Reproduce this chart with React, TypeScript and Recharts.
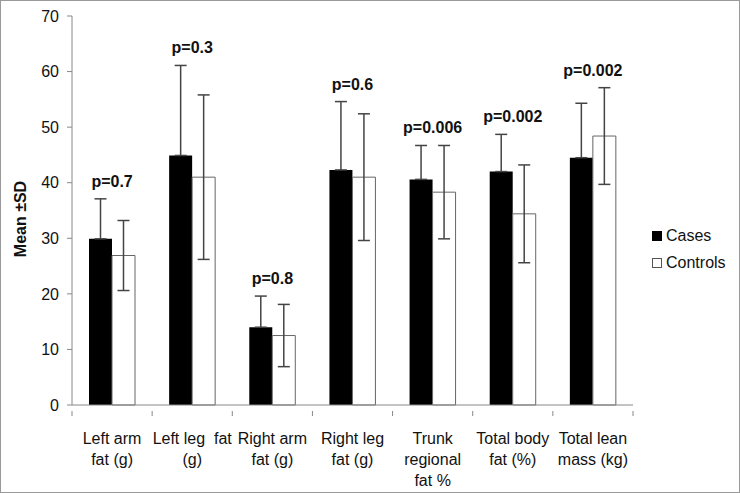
import {
  ComposedChart, Bar, Line, XAxis, YAxis, ErrorBar, LabelList,
} from 'recharts';

const categories = [
  ['Left arm', 'fat (g)'],
  ['Left leg\u00a0\u00a0fat', '(g)'],
  ['Right arm', 'fat (g)'],
  ['Right leg', 'fat (g)'],
  ['Trunk', 'regional', 'fat %'],
  ['Total\u00a0body', 'fat (%)'],
  ['Total\u00a0lean', 'mass (kg)'],
];
const casesMean = [29.9, 44.9, 14.0, 42.3, 40.6, 42.0, 44.5];
const casesSd = [7.2, 16.2, 5.6, 12.3, 6.1, 6.7, 9.8];
const controlsMean = [26.9, 41.0, 12.5, 41.0, 38.3, 34.4, 48.4];
const controlsSd = [6.3, 14.8, 5.6, 11.4, 8.4, 8.8, 8.7];
const pValues = ['p=0.7', 'p=0.3', 'p=0.8', 'p=0.6', 'p=0.006', 'p=0.002', 'p=0.002'];
const yTicks = [0, 10, 20, 30, 40, 50, 60, 70];

const FONT = "Arial, 'Liberation Sans', sans-serif";
const W = 738;
const H = 491;
const X_AXIS_H = 30;
const Y_AXIS_W = 71;
const margin = { top: 15, right: 106, bottom: 87 - X_AXIS_H, left: 0 };
const halfBand = (W - margin.left - margin.right - Y_AXIS_W) / categories.length / 2;

const chartData = categories.map((lines, i) => ({
  name: lines.join(' '),
  lines,
  cases: casesMean[i],
  // lower whisker is hidden inside the black bar in the original
  casesErr: [0, casesSd[i]],
  controls: controlsMean[i],
  controlsSd: controlsSd[i],
  p: pValues[i],
  pTop: Math.max(casesMean[i] + casesSd[i], controlsMean[i] + controlsSd[i]),
}));

function CategoryTick(props: any) {
  const { x, y, payload, index } = props;
  const lines: string[] = chartData[index]?.lines ?? [String(payload.value)];
  const axisY = y - 2;
  return (
    <g>
      <line x1={x - halfBand} y1={axisY} x2={x - halfBand} y2={axisY + 5} stroke="#888" />
      {index === categories.length - 1 && (
        <line x1={x + halfBand} y1={axisY} x2={x + halfBand} y2={axisY + 5} stroke="#888" />
      )}
      <text x={x} y={axisY} textAnchor="middle" fontSize={16} fontFamily={FONT} fill="#111">
        {lines.map((l, k) => (
          <tspan key={k} x={x} dy={k === 0 ? 33 : 21}>{l}</tspan>
        ))}
      </text>
    </g>
  );
}

function PLabel(props: any) {
  const { x, y, value } = props;
  return (
    <text x={x} y={y - 12} textAnchor="middle" fontSize={16} fontWeight="bold" fontFamily={FONT} fill="#111">
      {value}
    </text>
  );
}

function LegendBox() {
  return (
    <div style={{ position: 'absolute', left: 651, top: 221, fontFamily: FONT, fontSize: 16, color: '#111', lineHeight: '27px' }}>
      <div style={{ display: 'flex', alignItems: 'center' }}>
        <span style={{ width: 10, height: 10, background: '#000', display: 'inline-block', marginRight: 4 }} />
        Cases
      </div>
      <div style={{ display: 'flex', alignItems: 'center' }}>
        <span style={{ width: 8, height: 8, background: '#fff', border: '1px solid #555', display: 'inline-block', marginRight: 4 }} />
        Controls
      </div>
    </div>
  );
}

export default function App() {
  return (
    <div style={{ position: 'absolute', left: 0, top: 0, width: W, height: H, border: '1px solid #999', background: '#fff' }}>
      <ComposedChart width={W} height={H} data={chartData} margin={margin} barGap={0}>
        <XAxis
          dataKey="name"
          height={X_AXIS_H}
          stroke="#888"
          tickLine={false}
          tick={<CategoryTick />}
          interval={0}
        />
        <YAxis
          domain={[0, 70]}
          ticks={yTicks}
          width={Y_AXIS_W}
          stroke="#888"
          tickSize={5}
          tickMargin={8}
          tick={{ fontSize: 16, fontFamily: FONT, fill: '#111' }}
          label={{
            content: () => (
              <text x={19} y={218} transform="rotate(-90 19 218)" textAnchor="middle" dominantBaseline="central"
                fontSize={16} fontWeight="bold" fontFamily={FONT} fill="#111">
                Mean ±SD
              </text>
            ),
          }}
        />
        <Bar dataKey="cases" name="Cases" fill="#000" barSize={23} isAnimationActive={false}>
          <ErrorBar dataKey="casesErr" width={6} stroke="#444" strokeWidth={1.5} />
        </Bar>
        <Bar dataKey="controls" name="Controls" fill="#fff" stroke="#666" strokeWidth={1} barSize={23} isAnimationActive={false}>
          <ErrorBar dataKey="controlsSd" width={6} stroke="#444" strokeWidth={1.5} />
        </Bar>
        <Line dataKey="pTop" stroke="none" dot={false} activeDot={false} legendType="none" isAnimationActive={false}>
          <LabelList dataKey="p" content={<PLabel />} />
        </Line>
      </ComposedChart>
      <LegendBox />
    </div>
  );
}
